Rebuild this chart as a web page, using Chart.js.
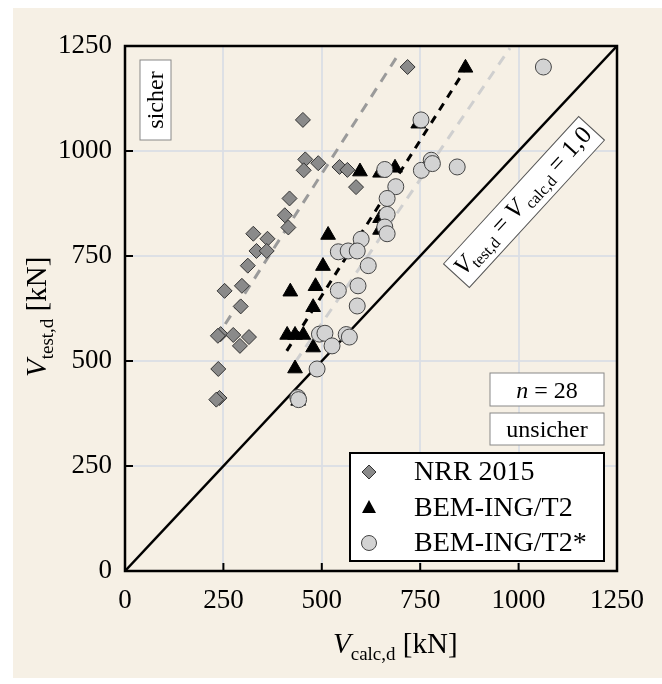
<!DOCTYPE html>
<html>
<head>
<meta charset="utf-8">
<script src="https://cdn.jsdelivr.net/npm/chart.js"></script>
<style>
  body { margin: 0; background: #fff; }
  #panel { position: absolute; left: 13px; top: 8px; width: 649px; height: 670px; background: #f6f0e5; }
  #wrap { position: absolute; left: 0; top: 0; width: 662px; height: 684px; }
</style>
</head>
<body>
<div id="panel"></div>
<div id="wrap"><canvas id="myChart" width="662" height="684"></canvas></div>
<script>
// ==========
// DATA
// ==========

// NRR 2015 (diamonds)
const nrrX = [718, 452, 458, 454, 491, 545, 565, 587, 418, 406, 415, 326, 362, 334, 360, 312, 297, 253, 294, 243, 236, 275, 315, 292, 237, 240, 232];
const nrrY = [1200, 1074, 980, 954, 971, 962, 955, 914, 887, 847, 818, 803, 791, 762, 762, 727, 679, 667, 630, 564, 560, 562, 557, 536, 481, 412, 408];

// BEM-ING/T2 (triangles)
const t2X = [865, 597, 686, 648, 745, 516, 503, 420, 484, 478, 412, 432, 453, 478, 432, 440, 648, 648];
const t2Y = [1198, 951, 960, 948, 1065, 800, 726, 665, 678, 628, 562, 562, 562, 532, 482, 405, 840, 812];

// BEM-ING/T2* (circles)
const t2sX = [1063, 752, 660, 753, 778, 781, 844, 688, 666, 666, 660, 666, 600, 542, 567, 590, 618, 542, 592, 590, 494, 508, 562, 570, 526, 488, 439, 441];
const t2sY = [1200, 1074, 956, 954, 978, 970, 962, 915, 887, 849, 819, 803, 790, 760, 762, 762, 727, 668, 679, 631, 564, 566, 563, 557, 536, 481, 413, 408];

// dashed trend lines (end points)
const nrrFitX = [230, 694];
const nrrFitY = [552, 1229];
const t2FitX = [411, 860];
const t2FitY = [524, 1188];
const t2sFitX = [433, 978];
const t2sFitY = [498, 1245];

// V_test = V_calc
const diagX = [0, 1250];
const diagY = [0, 1250];

// axis ticks
const tickVals = [0, 250, 500, 750, 1000, 1250];

const legendLabels = ["NRR 2015", "BEM-ING/T2", "BEM-ING/T2*"];

// ==========
// HELPERS
// ==========
const SERIF = '"Liberation Serif", "DejaVu Serif", serif';

function pts(xs, ys) {
    return xs.map((x, i) => ({ x: x, y: ys[i] }));
}

function f(size, italic) {
    return (italic ? "italic " : "") + size + "px " + SERIF;
}

function richWidth(ctx, parts) {
    let w = 0;
    parts.forEach(p => { ctx.font = p.font; w += ctx.measureText(p.t).width; });
    return w;
}

function drawRich(ctx, parts, x, y) {
    parts.forEach(p => {
        ctx.font = p.font;
        ctx.fillText(p.t, x, y + (p.dy || 0));
        x += ctx.measureText(p.t).width;
    });
}

function box(ctx, x, y, w, h, stroke, lw) {
    ctx.fillStyle = "#fff";
    ctx.fillRect(x, y, w, h);
    ctx.strokeStyle = stroke;
    ctx.lineWidth = lw;
    ctx.strokeRect(x, y, w, h);
}

// ==========
// OVERLAY PLUGIN (frame, inner ticks, titles, labels, legend)
// ==========
const overlay = {
    id: "overlay",
    afterDraw(chart) {
        const ctx = chart.ctx;
        const a = chart.chartArea;
        const xs = chart.scales.x;
        const ys = chart.scales.y;
        ctx.save();

        // inner tick marks
        ctx.strokeStyle = "#000";
        ctx.lineWidth = 2;
        tickVals.forEach(v => {
            const px = xs.getPixelForValue(v);
            ctx.beginPath(); ctx.moveTo(px, a.bottom); ctx.lineTo(px, a.bottom - 8); ctx.stroke();
            const py = ys.getPixelForValue(v);
            ctx.beginPath(); ctx.moveTo(a.left, py); ctx.lineTo(a.left + 8, py); ctx.stroke();
        });

        // frame
        ctx.lineWidth = 2.5;
        ctx.strokeRect(a.left, a.top, a.right - a.left, a.bottom - a.top);

        ctx.fillStyle = "#000";
        ctx.textBaseline = "alphabetic";
        ctx.textAlign = "left";

        // x axis title
        drawRich(ctx, [
            { t: "V", font: f(29, true) },
            { t: "calc,d", font: f(19), dy: 7 },
            { t: " [kN]", font: f(29) }
        ], 333, 653);

        // y axis title (rotated)
        ctx.save();
        ctx.translate(46, 377);
        ctx.rotate(-Math.PI / 2);
        drawRich(ctx, [
            { t: "V", font: f(29, true) },
            { t: "test,d", font: f(19), dy: 7 },
            { t: " [kN]", font: f(29) }
        ], 0, 0);
        ctx.restore();

        // "sicher" box
        box(ctx, 140, 60, 31, 80, "#888", 1);
        ctx.save();
        ctx.translate(155.5, 100);
        ctx.rotate(-Math.PI / 2);
        ctx.fillStyle = "#000";
        ctx.font = f(24);
        ctx.textAlign = "center";
        ctx.textBaseline = "middle";
        ctx.fillText("sicher", 0, 1);
        ctx.restore();

        // n = 28 box
        box(ctx, 490, 373, 114, 33, "#888", 1);
        ctx.fillStyle = "#000";
        let parts = [{ t: "n", font: f(24, true) }, { t: " = 28", font: f(24) }];
        drawRich(ctx, parts, 547 - richWidth(ctx, parts) / 2, 398);

        // unsicher box
        box(ctx, 490, 413, 114, 32, "#888", 1);
        ctx.fillStyle = "#000";
        ctx.font = f(24);
        ctx.textAlign = "center";
        ctx.fillText("unsicher", 547, 437);
        ctx.textAlign = "left";

        // diagonal label
        ctx.save();
        ctx.translate(524, 202);
        ctx.rotate(-47.5 * Math.PI / 180);
        box(ctx, -100, -17.5, 200, 35, "#555", 1);
        ctx.fillStyle = "#000";
        parts = [
            { t: "V", font: f(25, true) },
            { t: "test,d", font: f(16), dy: 5 },
            { t: " = ", font: f(25) },
            { t: "V", font: f(25, true) },
            { t: " calc,d", font: f(16), dy: 5 },
            { t: " = 1,0", font: f(25) }
        ];
        drawRich(ctx, parts, -richWidth(ctx, parts) / 2, 6);
        ctx.restore();

        // legend
        box(ctx, 350, 453, 254, 108, "#000", 2);
        const rowsY = [472, 508, 543];
        const mx = 369;
        // diamond
        ctx.fillStyle = "#8a8a8a"; ctx.strokeStyle = "#333"; ctx.lineWidth = 1;
        ctx.beginPath();
        ctx.moveTo(mx - 7, rowsY[0]); ctx.lineTo(mx, rowsY[0] - 7); ctx.lineTo(mx + 7, rowsY[0]); ctx.lineTo(mx, rowsY[0] + 7);
        ctx.closePath(); ctx.fill(); ctx.stroke();
        // triangle
        ctx.fillStyle = "#000";
        ctx.beginPath();
        ctx.moveTo(mx, rowsY[1] - 8); ctx.lineTo(mx + 7, rowsY[1] + 5); ctx.lineTo(mx - 7, rowsY[1] + 5);
        ctx.closePath(); ctx.fill();
        // circle
        ctx.fillStyle = "#d3d3d3"; ctx.strokeStyle = "#444";
        ctx.beginPath(); ctx.arc(mx, rowsY[2], 7.5, 0, Math.PI * 2); ctx.fill(); ctx.stroke();

        ctx.fillStyle = "#000";
        ctx.font = f(28);
        ctx.textBaseline = "middle";
        legendLabels.forEach((lbl, i) => ctx.fillText(lbl, 414, rowsY[i] + 1));

        ctx.restore();
    }
};

// ==========
// CHART
// ==========
const ctx = document.getElementById("myChart");
const gridColor = "rgba(218, 222, 228, 0.9)";

const data = {
    datasets: [
        {
            label: legendLabels[2],
            data: pts(t2sX, t2sY),
            pointStyle: "circle",
            pointRadius: 8,
            backgroundColor: "#d3d3d3",
            borderColor: "#444",
            borderWidth: 1,
            order: 0
        },
        {
            label: legendLabels[1],
            data: pts(t2X, t2Y),
            pointStyle: "triangle",
            pointRadius: 8.5,
            backgroundColor: "#000",
            borderColor: "#000",
            borderWidth: 1,
            order: 1
        },
        {
            label: legendLabels[0],
            data: pts(nrrX, nrrY),
            pointStyle: "rectRot",
            pointRadius: 7.5,
            backgroundColor: "#8a8a8a",
            borderColor: "#333",
            borderWidth: 1,
            order: 2
        },
        {
            label: "diag",
            data: pts(diagX, diagY),
            showLine: true, pointRadius: 0,
            borderColor: "#000", borderWidth: 2.5,
            order: 3
        },
        {
            label: "fit t2",
            data: pts(t2FitX, t2FitY),
            showLine: true, pointRadius: 0,
            borderColor: "#000", borderWidth: 3, borderDash: [8, 7],
            order: 4
        },
        {
            label: "fit nrr",
            data: pts(nrrFitX, nrrFitY),
            showLine: true, pointRadius: 0,
            borderColor: "#9a9a9a", borderWidth: 3, borderDash: [10, 8],
            order: 5
        },
        {
            label: "fit t2*",
            data: pts(t2sFitX, t2sFitY),
            showLine: true, pointRadius: 0,
            borderColor: "#cfcfcf", borderWidth: 3, borderDash: [10, 8],
            order: 6
        }
    ]
};

const tickFont = { family: SERIF, size: 27 };

const myChart = new Chart(ctx, {
    type: "scatter",
    data: data,
    plugins: [overlay],
    options: {
        responsive: false,
        animation: false,
        devicePixelRatio: 1,
        layout: { padding: { top: 46, right: 45, left: 0, bottom: 0 } },
        plugins: {
            legend: { display: false },
            tooltip: { enabled: false }
        },
        scales: {
            x: {
                type: "linear",
                min: 0, max: 1250,
                ticks: { stepSize: 250, padding: 14, color: "#000", font: tickFont, maxRotation: 0, callback: (v) => String(v) },
                grid: { color: gridColor, lineWidth: 2, drawTicks: false },
                border: { display: false },
                afterFit: (s) => { s.height = 113; }
            },
            y: {
                type: "linear",
                min: 0, max: 1250,
                ticks: { stepSize: 250, padding: 13, color: "#000", font: tickFont, callback: (v) => String(v) },
                grid: { color: gridColor, lineWidth: 2, drawTicks: false },
                border: { display: false },
                afterFit: (s) => { s.width = 125; }
            }
        }
    }
});
</script>
</body>
</html>
